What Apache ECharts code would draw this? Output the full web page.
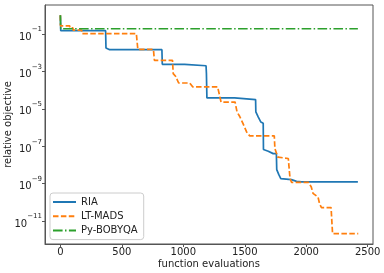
<!DOCTYPE html>
<html>
<head>
<meta charset="utf-8">
<script src="https://cdn.jsdelivr.net/npm/echarts@6/dist/echarts.min.js"></script>
<style>html,body{margin:0;padding:0;background:#fff;}#c{width:384px;height:273px;}</style>
</head>
<body>
<div id="c"></div>
<script>
// ---- data ----
const seriesNames = ['RIA', 'LT-MADS', 'Py-BOBYQA'];
const riaEvals  = [0, 3, 368, 371, 401, 826, 829, 1011, 1013, 1185, 1188, 1192, 1417, 1420, 1588, 1590, 1610, 1631, 1650, 1652, 1691, 1731, 1757, 1760, 1777, 1793, 1880, 1921, 1962, 2420];
const riaValues = [1.0, 1.5e-1, 1.5e-1, 1.8e-2, 1.45e-2, 1.45e-2, 2.4e-3, 2.4e-3, 2.0e-3, 2.0e-3, 8e-4, 3.8e-5, 3.8e-5, 3.1e-5, 3.1e-5, 6.8e-6, 3.6e-6, 1.95e-6, 1.7e-6, 6.6e-8, 5.4e-8, 4.0e-8, 4.0e-8, 5.6e-9, 3.0e-9, 1.86e-9, 1.62e-9, 1.32e-9, 1.23e-9, 1.23e-9];
const madsEvals  = [0, 1, 76, 77, 102, 104, 173, 176, 618, 630, 757, 765, 912, 918, 937, 962, 1052, 1076, 1279, 1307, 1421, 1437, 1458, 1486, 1515, 1539, 1740, 1745, 1769, 1785, 1854, 1868, 1880, 2019, 2041, 2055, 2096, 2108, 2124, 2202, 2214, 2423];
const madsValues = [1.0, 2.7e-1, 2.7e-1, 2.1e-1, 2.1e-1, 1.6e-1, 1.6e-1, 1.05e-1, 1.05e-1, 1.5e-2, 1.5e-2, 3.9e-3, 3.9e-3, 7.6e-4, 5.5e-4, 2.4e-4, 2.4e-4, 1.5e-4, 1.5e-4, 2.3e-5, 2.3e-5, 6.8e-6, 4.0e-6, 1.6e-6, 5.8e-7, 3.6e-7, 3.6e-7, 7.4e-8, 2.6e-8, 2.2e-8, 2.2e-8, 1.9e-9, 1.17e-9, 1.17e-9, 6.6e-10, 3.0e-10, 1.9e-10, 8.5e-11, 5.2e-11, 5.2e-11, 2.1e-12, 2.1e-12];
const bobyqaEvals  = [0, 3, 2420];
const bobyqaValues = [1.0, 1.9e-1, 1.9e-1];
const xTicks = [0, 500, 1000, 1500, 2000, 2500];
const yTickExponents = [-11, -9, -7, -5, -3, -1];
// ---- chart ----
const toPts = (ev, vals) => ev.map((e, i) => [e, Math.log10(vals[i])]);
const font = 'DejaVu Sans';
const chart = echarts.init(document.getElementById('c'), null, {renderer: 'canvas'});
chart.setOption({
  animation: false,
  textStyle: {fontFamily: font},
  grid: {left: 45, right: 11, top: 5, bottom: 29, show: true, borderColor: '#555', borderWidth: 1,
         backgroundColor: 'transparent', containLabel: false, outerBoundsMode: 'none'},
  xAxis: {
    type: 'value', min: -125, max: 2543,
    name: 'function evaluations', nameLocation: 'middle', nameGap: 15,
    nameMoveOverlap: false,
    nameTextStyle: {fontFamily: font, fontSize: 10, color: '#222'},
    axisLine: {show: true, onZero: false, lineStyle: {color: '#555'}},
    axisTick: {show: true, length: 3, lineStyle: {color: '#555'}, customValues: xTicks},
    axisLabel: {fontFamily: font, fontSize: 10, color: '#222', margin: 3, customValues: xTicks,
                formatter: v => String(v)},
    splitLine: {show: false}
  },
  yAxis: {
    type: 'value', min: -12.23, max: 0.55,
    name: 'relative objective', nameLocation: 'middle', nameGap: 32,
    nameMoveOverlap: false,
    nameTextStyle: {fontFamily: font, fontSize: 10, color: '#222'},
    axisLine: {show: true, onZero: false, lineStyle: {color: '#555'}},
    axisTick: {show: true, length: 3, lineStyle: {color: '#555'}, customValues: yTickExponents},
    axisLabel: {
      margin: 3, customValues: yTickExponents,
      formatter: v => '{b|10}{s|' + (v < 0 ? '\u2212' : '') + Math.abs(v) + '}',
      rich: {
        b: {fontFamily: font, fontSize: 10, color: '#222', lineHeight: 16, verticalAlign: 'bottom'},
        s: {fontFamily: font, fontSize: 7, color: '#222', lineHeight: 16, verticalAlign: 'top'}
      }
    },
    splitLine: {show: false}
  },
  legend: {
    orient: 'vertical', left: 50, top: 193,
    padding: [3, 6, 3, 2], itemWidth: 23, itemHeight: 10, itemGap: 2.3,
    backgroundColor: 'rgba(255,255,255,0.8)', borderColor: '#ccc', borderWidth: 1, borderRadius: 3,
    itemStyle: {opacity: 0},
    textStyle: {fontFamily: font, fontSize: 10, color: '#222', lineHeight: 12},
    data: seriesNames
  },
  series: [
    {name: seriesNames[0], type: 'line', data: toPts(riaEvals, riaValues), symbol: 'none', color: '#1f77b4',
     lineStyle: {width: 1.7, color: '#1f77b4'}},
    {name: seriesNames[1], type: 'line', data: toPts(madsEvals, madsValues), symbol: 'none', color: '#ff7f0e',
     lineStyle: {width: 1.7, color: '#ff7f0e', type: [5.5, 2.4]}},
    {name: seriesNames[2], type: 'line', data: toPts(bobyqaEvals, bobyqaValues), symbol: 'none', color: '#2ca02c',
     lineStyle: {width: 1.6, color: '#2ca02c', type: [9.6, 2.4, 1.5, 2.4]}}
  ]
});
</script>
</body>
</html>
